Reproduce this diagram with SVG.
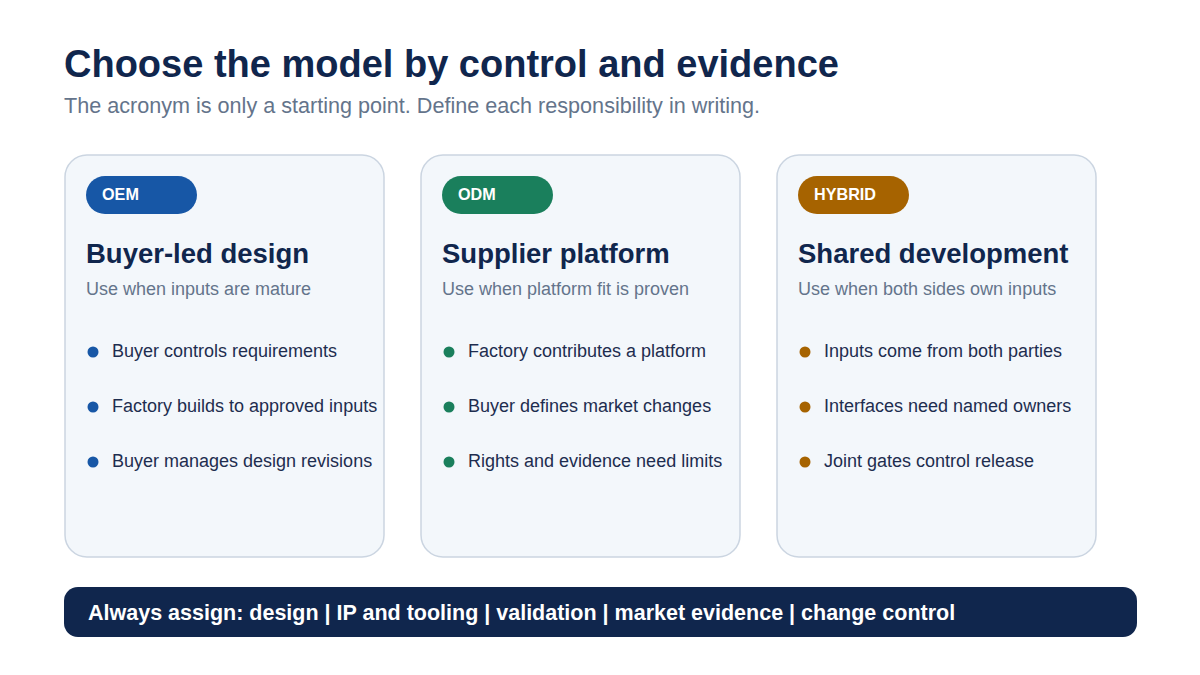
<svg xmlns="http://www.w3.org/2000/svg" width="1200" height="675" viewBox="0 0 1200 675">
<style>
.title{font-family:"Liberation Sans",Arial,sans-serif;font-weight:bold;font-size:38px;fill:#10264d}
.sub{font-family:"Liberation Sans",Arial,sans-serif;font-size:21.6px;fill:#64748b}
.card{fill:#f3f7fb;stroke:#cbd5e1;stroke-width:1.5}
.pilltxt{font-family:"Liberation Sans",Arial,sans-serif;font-weight:bold;font-size:16.2px;fill:#ffffff}
.ctitle{font-family:"Liberation Sans",Arial,sans-serif;font-weight:bold;font-size:27.5px;fill:#10264d}
.csub{font-family:"Liberation Sans",Arial,sans-serif;font-size:18px;fill:#64748b}
.item{font-family:"Liberation Sans",Arial,sans-serif;font-size:18px;fill:#1e2d4f}
.bar{fill:#10264d}
.bartxt{font-family:"Liberation Sans",Arial,sans-serif;font-weight:bold;font-size:21.5px;fill:#ffffff}
</style>
<rect width="1200" height="675" fill="#ffffff"/>
<text class="title" x="64" y="77">Choose the model by control and evidence</text>
<text class="sub" x="64" y="113">The acronym is only a starting point. Define each responsibility in writing.</text>

<g id="card-oem">
<rect class="card" x="65" y="155" width="319" height="402" rx="22"/>
<rect x="86" y="176" width="111" height="38" rx="19" fill="#1757a6"/>
<text class="pilltxt" x="102" y="200">OEM</text>
<text class="ctitle" x="86" y="263">Buyer-led design</text>
<text class="csub" x="86" y="295">Use when inputs are mature</text>
<circle cx="93" cy="352" r="5.5" fill="#1757a6"/>
<text class="item" x="112" y="357">Buyer controls requirements</text>
<circle cx="93" cy="407" r="5.5" fill="#1757a6"/>
<text class="item" x="112" y="412">Factory builds to approved inputs</text>
<circle cx="93" cy="462" r="5.5" fill="#1757a6"/>
<text class="item" x="112" y="467">Buyer manages design revisions</text>
</g>

<g id="card-odm">
<rect class="card" x="421" y="155" width="319" height="402" rx="22"/>
<rect x="442" y="176" width="111" height="38" rx="19" fill="#1a7f5c"/>
<text class="pilltxt" x="458" y="200">ODM</text>
<text class="ctitle" x="442" y="263">Supplier platform</text>
<text class="csub" x="442" y="295">Use when platform fit is proven</text>
<circle cx="449" cy="352" r="5.5" fill="#1a7f5c"/>
<text class="item" x="468" y="357">Factory contributes a platform</text>
<circle cx="449" cy="407" r="5.5" fill="#1a7f5c"/>
<text class="item" x="468" y="412">Buyer defines market changes</text>
<circle cx="449" cy="462" r="5.5" fill="#1a7f5c"/>
<text class="item" x="468" y="467">Rights and evidence need limits</text>
</g>

<g id="card-hybrid">
<rect class="card" x="777" y="155" width="319" height="402" rx="22"/>
<rect x="798" y="176" width="111" height="38" rx="19" fill="#a66300"/>
<text class="pilltxt" x="814" y="200">HYBRID</text>
<text class="ctitle" x="798" y="263">Shared development</text>
<text class="csub" x="798" y="295">Use when both sides own inputs</text>
<circle cx="805" cy="352" r="5.5" fill="#a66300"/>
<text class="item" x="824" y="357">Inputs come from both parties</text>
<circle cx="805" cy="407" r="5.5" fill="#a66300"/>
<text class="item" x="824" y="412">Interfaces need named owners</text>
<circle cx="805" cy="462" r="5.5" fill="#a66300"/>
<text class="item" x="824" y="467">Joint gates control release</text>
</g>

<g id="footer">
<rect class="bar" x="64" y="587" width="1073" height="50" rx="14"/>
<text class="bartxt" x="88" y="620">Always assign: design | IP and tooling | validation | market evidence | change control</text>
</g>
<g id="connectors"></g>
</svg>
